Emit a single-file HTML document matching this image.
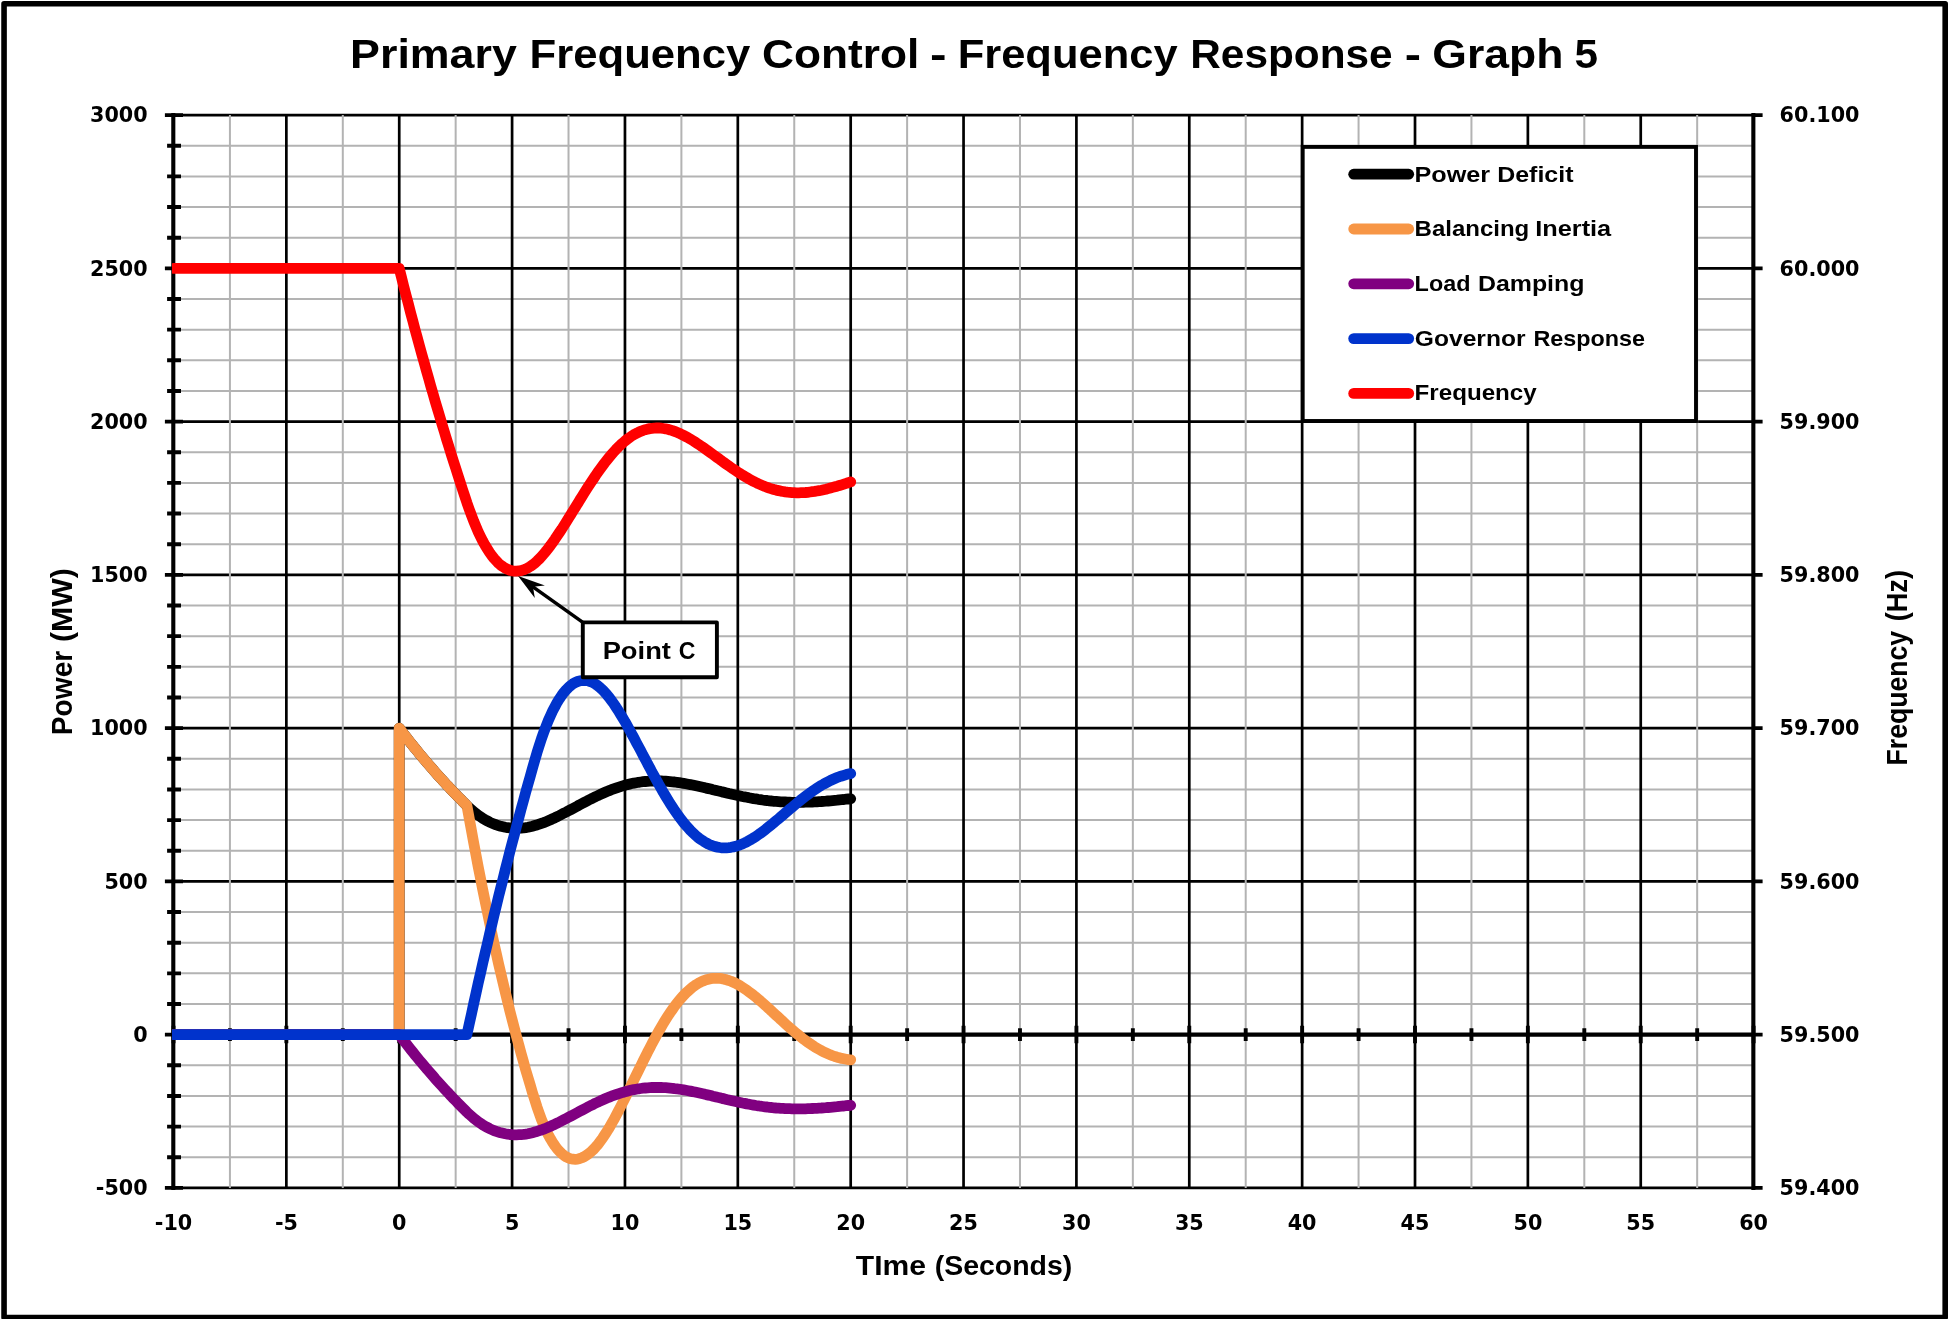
<!DOCTYPE html>
<html lang="en"><head><meta charset="utf-8"><title>Primary Frequency Control - Frequency Response - Graph 5</title>
<style>html,body{margin:0;padding:0;background:#fff}svg{display:block;will-change:transform}.t{font-family:"Liberation Sans",sans-serif;font-weight:bold;fill:#000}.n{font-family:"DejaVu Sans",sans-serif;font-weight:bold;fill:#000;font-size:20.7px}</style></head><body>
<svg width="1948" height="1319" viewBox="0 0 1948 1319">
<rect x="0" y="0" width="1948" height="1319" fill="#fff"/>
<rect x="4.05" y="3.75" width="1941.15" height="1313.75" fill="none" stroke="#000" stroke-width="5.6" stroke-linejoin="round"/>
<path d="M173.5,1157.25H1753.6M173.5,1126.60H1753.6M173.5,1095.95H1753.6M173.5,1065.29H1753.6M173.5,1003.99H1753.6M173.5,973.34H1753.6M173.5,942.69H1753.6M173.5,912.04H1753.6M173.5,850.73H1753.6M173.5,820.08H1753.6M173.5,789.43H1753.6M173.5,758.78H1753.6M173.5,697.48H1753.6M173.5,666.83H1753.6M173.5,636.17H1753.6M173.5,605.52H1753.6M173.5,544.22H1753.6M173.5,513.57H1753.6M173.5,482.92H1753.6M173.5,452.27H1753.6M173.5,390.96H1753.6M173.5,360.31H1753.6M173.5,329.66H1753.6M173.5,299.01H1753.6M173.5,237.71H1753.6M173.5,207.05H1753.6M173.5,176.40H1753.6M173.5,145.75H1753.6" stroke="#b3b3b3" stroke-width="2.0" fill="none"/>
<path d="M173.5,1187.90H1753.6M173.5,1034.64H1753.6M173.5,881.39H1753.6M173.5,728.13H1753.6M173.5,574.87H1753.6M173.5,421.61H1753.6M173.5,268.36H1753.6M173.5,115.10H1753.6M173.50,113.8V1189.2M286.36,113.8V1189.2M399.23,113.8V1189.2M512.09,113.8V1189.2M624.96,113.8V1189.2M737.82,113.8V1189.2M850.69,113.8V1189.2M963.55,113.8V1189.2M1076.41,113.8V1189.2M1189.28,113.8V1189.2M1302.14,113.8V1189.2M1415.01,113.8V1189.2M1527.87,113.8V1189.2M1640.74,113.8V1189.2M1753.60,113.8V1189.2" stroke="#000" stroke-width="2.7" fill="none"/>
<path d="M229.93,115.1V1187.9M342.80,115.1V1187.9M455.66,115.1V1187.9M568.52,115.1V1187.9M681.39,115.1V1187.9M794.25,115.1V1187.9M907.12,115.1V1187.9M1019.98,115.1V1187.9M1132.85,115.1V1187.9M1245.71,115.1V1187.9M1358.57,115.1V1187.9M1471.44,115.1V1187.9M1584.30,115.1V1187.9M1697.17,115.1V1187.9" stroke="#b3b3b3" stroke-width="2.0" fill="none"/>
<path d="M173.30,113.1V1189.9M1753.35,113.1V1189.9M173.3,1034.64H1753.3" stroke="#000" stroke-width="4.1" fill="none"/>
<path d="M164.9,1187.90H183.0M1753.3,1187.90H1762.6M167.1,1157.25H181.0M167.1,1126.60H181.0M167.1,1095.95H181.0M167.1,1065.29H181.0M164.9,1034.64H183.0M1753.3,1034.64H1762.6M167.1,1003.99H181.0M167.1,973.34H181.0M167.1,942.69H181.0M167.1,912.04H181.0M164.9,881.39H183.0M1753.3,881.39H1762.6M167.1,850.73H181.0M167.1,820.08H181.0M167.1,789.43H181.0M167.1,758.78H181.0M164.9,728.13H183.0M1753.3,728.13H1762.6M167.1,697.48H181.0M167.1,666.83H181.0M167.1,636.17H181.0M167.1,605.52H181.0M164.9,574.87H183.0M1753.3,574.87H1762.6M167.1,544.22H181.0M167.1,513.57H181.0M167.1,482.92H181.0M167.1,452.27H181.0M164.9,421.61H183.0M1753.3,421.61H1762.6M167.1,390.96H181.0M167.1,360.31H181.0M167.1,329.66H181.0M167.1,299.01H181.0M164.9,268.36H183.0M1753.3,268.36H1762.6M167.1,237.71H181.0M167.1,207.05H181.0M167.1,176.40H181.0M167.1,145.75H181.0M164.9,115.10H183.0M1753.3,115.10H1762.6M173.50,1025.8V1043.3M229.93,1028.2V1041.0M286.36,1025.8V1043.3M342.80,1028.2V1041.0M399.23,1025.8V1043.3M455.66,1028.2V1041.0M512.09,1025.8V1043.3M568.52,1028.2V1041.0M624.96,1025.8V1043.3M681.39,1028.2V1041.0M737.82,1025.8V1043.3M794.25,1028.2V1041.0M850.69,1025.8V1043.3M907.12,1028.2V1041.0M963.55,1025.8V1043.3M1019.98,1028.2V1041.0M1076.41,1025.8V1043.3M1132.85,1028.2V1041.0M1189.28,1025.8V1043.3M1245.71,1028.2V1041.0M1302.14,1025.8V1043.3M1358.57,1028.2V1041.0M1415.01,1025.8V1043.3M1471.44,1028.2V1041.0M1527.87,1025.8V1043.3M1584.30,1028.2V1041.0M1640.74,1025.8V1043.3M1697.17,1028.2V1041.0M1753.60,1025.8V1043.3" stroke="#000" stroke-width="3.9" fill="none"/>
<defs><clipPath id="pc"><rect x="172.0" y="105.1" width="1592.1" height="1092.8"/></clipPath></defs>
<g clip-path="url(#pc)" fill="none" stroke-width="10.8" stroke-linejoin="round" stroke-linecap="round">
<path d="M173.5,1034.6 L399.2,1034.6 L399.2,728.1 L401.5,731.1 L403.7,734.0 L406.0,736.9 L408.3,739.8 L410.5,742.7 L412.8,745.5 L415.0,748.3 L417.3,751.0 L419.5,753.8 L421.8,756.5 L424.1,759.2 L426.3,761.9 L428.6,764.5 L430.8,767.1 L433.1,769.7 L435.3,772.2 L437.6,774.8 L439.9,777.3 L442.1,779.8 L444.4,782.2 L446.6,784.7 L448.9,787.1 L451.1,789.5 L453.4,791.9 L455.7,794.2 L457.9,796.5 L460.2,798.8 L462.4,801.1 L464.7,803.4 L466.9,805.6 L469.2,807.8 L471.5,809.8 L473.7,811.8 L476.0,813.6 L478.2,815.3 L480.5,816.8 L482.7,818.3 L485.0,819.7 L487.3,820.9 L489.5,822.1 L491.8,823.1 L494.0,824.0 L496.3,824.9 L498.5,825.6 L500.8,826.3 L503.1,826.8 L505.3,827.3 L507.6,827.7 L509.8,827.9 L512.1,828.1 L514.4,828.2 L516.6,828.3 L518.9,828.2 L521.1,828.1 L523.4,827.9 L525.6,827.6 L527.9,827.2 L530.2,826.7 L532.4,826.2 L534.7,825.6 L536.9,825.0 L539.2,824.2 L541.4,823.4 L543.7,822.6 L546.0,821.7 L548.2,820.8 L550.5,819.8 L552.7,818.7 L555.0,817.7 L557.2,816.6 L559.5,815.5 L561.8,814.3 L564.0,813.1 L566.3,812.0 L568.5,810.8 L570.8,809.6 L573.0,808.4 L575.3,807.2 L577.6,806.0 L579.8,804.7 L582.1,803.5 L584.3,802.4 L586.6,801.2 L588.8,800.0 L591.1,798.9 L593.4,797.7 L595.6,796.6 L597.9,795.6 L600.1,794.5 L602.4,793.5 L604.6,792.5 L606.9,791.5 L609.2,790.6 L611.4,789.7 L613.7,788.9 L615.9,788.1 L618.2,787.3 L620.4,786.6 L622.7,785.9 L625.0,785.2 L627.2,784.6 L629.5,784.1 L631.7,783.6 L634.0,783.1 L636.2,782.7 L638.5,782.3 L640.8,782.0 L643.0,781.7 L645.3,781.5 L647.5,781.3 L649.8,781.1 L652.0,781.0 L654.3,781.0 L656.6,780.9 L658.8,780.9 L661.1,781.0 L663.3,781.1 L665.6,781.2 L667.8,781.4 L670.1,781.6 L672.4,781.8 L674.6,782.0 L676.9,782.3 L679.1,782.6 L681.4,783.0 L683.6,783.4 L685.9,783.8 L688.2,784.2 L690.4,784.6 L692.7,785.0 L694.9,785.5 L697.2,786.0 L699.4,786.5 L701.7,787.0 L704.0,787.5 L706.2,788.1 L708.5,788.6 L710.7,789.1 L713.0,789.7 L715.2,790.2 L717.5,790.8 L719.8,791.3 L722.0,791.9 L724.3,792.4 L726.5,792.9 L728.8,793.5 L731.0,794.0 L733.3,794.5 L735.6,795.0 L737.8,795.5 L740.1,796.0 L742.3,796.5 L744.6,796.9 L746.9,797.3 L749.1,797.8 L751.4,798.2 L753.6,798.6 L755.9,798.9 L758.1,799.3 L760.4,799.6 L762.7,800.0 L764.9,800.3 L767.2,800.5 L769.4,800.8 L771.7,801.0 L773.9,801.3 L776.2,801.4 L778.5,801.6 L780.7,801.8 L783.0,801.9 L785.2,802.0 L787.5,802.1 L789.7,802.2 L792.0,802.3 L794.3,802.3 L796.5,802.3 L798.8,802.3 L801.0,802.3 L803.3,802.3 L805.5,802.2 L807.8,802.2 L810.1,802.1 L812.3,802.0 L814.6,801.9 L816.8,801.8 L819.1,801.6 L821.3,801.5 L823.6,801.3 L825.9,801.2 L828.1,801.0 L830.4,800.8 L832.6,800.6 L834.9,800.4 L837.1,800.2 L839.4,799.9 L841.7,799.7 L843.9,799.5 L846.2,799.2 L848.4,799.0 L850.7,798.8" stroke="#000"/>
<path d="M173.5,1034.6 L399.2,1034.6 L399.2,728.1 L401.5,731.1 L403.7,734.0 L406.0,736.9 L408.3,739.8 L410.5,742.7 L412.8,745.5 L415.0,748.3 L417.3,751.0 L419.5,753.8 L421.8,756.5 L424.1,759.2 L426.3,761.9 L428.6,764.5 L430.8,767.1 L433.1,769.7 L435.3,772.2 L437.6,774.8 L439.9,777.3 L442.1,779.8 L444.4,782.2 L446.6,784.7 L448.9,787.1 L451.1,789.5 L453.4,791.9 L455.7,794.2 L457.9,796.5 L460.2,798.8 L462.4,801.1 L464.7,803.4 L466.9,805.6 L469.2,818.3 L471.5,830.7 L473.7,842.9 L476.0,854.9 L478.2,866.7 L480.5,878.2 L482.7,889.6 L485.0,900.7 L487.3,911.7 L489.5,922.4 L491.8,933.0 L494.0,943.3 L496.3,953.5 L498.5,963.5 L500.8,973.3 L503.1,982.9 L505.3,992.3 L507.6,1001.6 L509.8,1010.7 L512.1,1019.6 L514.4,1028.3 L516.6,1036.9 L518.9,1045.3 L521.1,1053.5 L523.4,1061.6 L525.6,1069.6 L527.9,1077.3 L530.2,1084.9 L532.4,1092.4 L534.7,1099.7 L536.9,1106.7 L539.2,1113.2 L541.4,1119.3 L543.7,1124.8 L546.0,1129.9 L548.2,1134.6 L550.5,1138.8 L552.7,1142.5 L555.0,1145.9 L557.2,1148.9 L559.5,1151.4 L561.8,1153.6 L564.0,1155.4 L566.3,1156.9 L568.5,1158.0 L570.8,1158.8 L573.0,1159.2 L575.3,1159.3 L577.6,1159.1 L579.8,1158.5 L582.1,1157.7 L584.3,1156.6 L586.6,1155.2 L588.8,1153.6 L591.1,1151.7 L593.4,1149.5 L595.6,1147.1 L597.9,1144.4 L600.1,1141.5 L602.4,1138.4 L604.6,1135.0 L606.9,1131.5 L609.2,1127.8 L611.4,1123.9 L613.7,1119.9 L615.9,1115.7 L618.2,1111.4 L620.4,1107.1 L622.7,1102.6 L625.0,1098.1 L627.2,1093.6 L629.5,1089.0 L631.7,1084.4 L634.0,1079.7 L636.2,1075.1 L638.5,1070.5 L640.8,1065.9 L643.0,1061.3 L645.3,1056.8 L647.5,1052.3 L649.8,1047.9 L652.0,1043.6 L654.3,1039.4 L656.6,1035.2 L658.8,1031.2 L661.1,1027.2 L663.3,1023.4 L665.6,1019.7 L667.8,1016.2 L670.1,1012.7 L672.4,1009.5 L674.6,1006.3 L676.9,1003.3 L679.1,1000.5 L681.4,997.9 L683.6,995.4 L685.9,993.0 L688.2,990.9 L690.4,988.9 L692.7,987.1 L694.9,985.4 L697.2,984.0 L699.4,982.7 L701.7,981.5 L704.0,980.6 L706.2,979.8 L708.5,979.2 L710.7,978.7 L713.0,978.4 L715.2,978.3 L717.5,978.3 L719.8,978.4 L722.0,978.7 L724.3,979.2 L726.5,979.8 L728.8,980.5 L731.0,981.3 L733.3,982.3 L735.6,983.3 L737.8,984.5 L740.1,985.8 L742.3,987.2 L744.6,988.7 L746.9,990.2 L749.1,991.9 L751.4,993.6 L753.6,995.3 L755.9,997.2 L758.1,999.1 L760.4,1001.0 L762.7,1003.0 L764.9,1005.0 L767.2,1007.0 L769.4,1009.1 L771.7,1011.2 L773.9,1013.3 L776.2,1015.4 L778.5,1017.4 L780.7,1019.5 L783.0,1021.6 L785.2,1023.7 L787.5,1025.7 L789.7,1027.7 L792.0,1029.7 L794.3,1031.6 L796.5,1033.5 L798.8,1035.3 L801.0,1037.1 L803.3,1038.9 L805.5,1040.6 L807.8,1042.2 L810.1,1043.8 L812.3,1045.3 L814.6,1046.8 L816.8,1048.1 L819.1,1049.4 L821.3,1050.7 L823.6,1051.8 L825.9,1052.9 L828.1,1053.9 L830.4,1054.9 L832.6,1055.7 L834.9,1056.5 L837.1,1057.2 L839.4,1057.8 L841.7,1058.4 L843.9,1058.8 L846.2,1059.2 L848.4,1059.6 L850.7,1059.8" stroke="#f79646"/>
<path d="M173.5,1034.6 L399.2,1034.6 L401.5,1037.6 L403.7,1040.5 L406.0,1043.4 L408.3,1046.3 L410.5,1049.2 L412.8,1052.0 L415.0,1054.8 L417.3,1057.6 L419.5,1060.3 L421.8,1063.0 L424.1,1065.7 L426.3,1068.4 L428.6,1071.0 L430.8,1073.6 L433.1,1076.2 L435.3,1078.8 L437.6,1081.3 L439.9,1083.8 L442.1,1086.3 L444.4,1088.8 L446.6,1091.2 L448.9,1093.6 L451.1,1096.0 L453.4,1098.4 L455.7,1100.7 L457.9,1103.1 L460.2,1105.4 L462.4,1107.6 L464.7,1109.9 L466.9,1112.1 L469.2,1114.3 L471.5,1116.3 L473.7,1118.3 L476.0,1120.1 L478.2,1121.8 L480.5,1123.3 L482.7,1124.8 L485.0,1126.2 L487.3,1127.4 L489.5,1128.6 L491.8,1129.6 L494.0,1130.6 L496.3,1131.4 L498.5,1132.1 L500.8,1132.8 L503.1,1133.3 L505.3,1133.8 L507.6,1134.2 L509.8,1134.5 L512.1,1134.7 L514.4,1134.8 L516.6,1134.8 L518.9,1134.7 L521.1,1134.6 L523.4,1134.4 L525.6,1134.1 L527.9,1133.7 L530.2,1133.2 L532.4,1132.7 L534.7,1132.1 L536.9,1131.5 L539.2,1130.7 L541.4,1130.0 L543.7,1129.1 L546.0,1128.2 L548.2,1127.3 L550.5,1126.3 L552.7,1125.2 L555.0,1124.2 L557.2,1123.1 L559.5,1122.0 L561.8,1120.8 L564.0,1119.7 L566.3,1118.5 L568.5,1117.3 L570.8,1116.1 L573.0,1114.9 L575.3,1113.7 L577.6,1112.5 L579.8,1111.3 L582.1,1110.1 L584.3,1108.9 L586.6,1107.7 L588.8,1106.5 L591.1,1105.4 L593.4,1104.3 L595.6,1103.1 L597.9,1102.1 L600.1,1101.0 L602.4,1100.0 L604.6,1099.0 L606.9,1098.0 L609.2,1097.1 L611.4,1096.2 L613.7,1095.4 L615.9,1094.6 L618.2,1093.8 L620.4,1093.1 L622.7,1092.4 L625.0,1091.8 L627.2,1091.2 L629.5,1090.6 L631.7,1090.1 L634.0,1089.6 L636.2,1089.2 L638.5,1088.8 L640.8,1088.5 L643.0,1088.2 L645.3,1088.0 L647.5,1087.8 L649.8,1087.6 L652.0,1087.5 L654.3,1087.5 L656.6,1087.4 L658.8,1087.5 L661.1,1087.5 L663.3,1087.6 L665.6,1087.7 L667.8,1087.9 L670.1,1088.1 L672.4,1088.3 L674.6,1088.6 L676.9,1088.8 L679.1,1089.2 L681.4,1089.5 L683.6,1089.9 L685.9,1090.3 L688.2,1090.7 L690.4,1091.1 L692.7,1091.6 L694.9,1092.0 L697.2,1092.5 L699.4,1093.0 L701.7,1093.5 L704.0,1094.0 L706.2,1094.6 L708.5,1095.1 L710.7,1095.6 L713.0,1096.2 L715.2,1096.7 L717.5,1097.3 L719.8,1097.8 L722.0,1098.4 L724.3,1098.9 L726.5,1099.5 L728.8,1100.0 L731.0,1100.5 L733.3,1101.0 L735.6,1101.5 L737.8,1102.0 L740.1,1102.5 L742.3,1103.0 L744.6,1103.4 L746.9,1103.9 L749.1,1104.3 L751.4,1104.7 L753.6,1105.1 L755.9,1105.5 L758.1,1105.8 L760.4,1106.2 L762.7,1106.5 L764.9,1106.8 L767.2,1107.0 L769.4,1107.3 L771.7,1107.5 L773.9,1107.8 L776.2,1108.0 L778.5,1108.1 L780.7,1108.3 L783.0,1108.4 L785.2,1108.6 L787.5,1108.7 L789.7,1108.7 L792.0,1108.8 L794.3,1108.8 L796.5,1108.9 L798.8,1108.9 L801.0,1108.8 L803.3,1108.8 L805.5,1108.8 L807.8,1108.7 L810.1,1108.6 L812.3,1108.5 L814.6,1108.4 L816.8,1108.3 L819.1,1108.1 L821.3,1108.0 L823.6,1107.8 L825.9,1107.7 L828.1,1107.5 L830.4,1107.3 L832.6,1107.1 L834.9,1106.9 L837.1,1106.7 L839.4,1106.4 L841.7,1106.2 L843.9,1106.0 L846.2,1105.7 L848.4,1105.5 L850.7,1105.3" stroke="#800080"/>
<path d="M173.5,1034.6 L399.2,1034.6 L401.5,1034.6 L403.7,1034.6 L406.0,1034.6 L408.3,1034.6 L410.5,1034.6 L412.8,1034.6 L415.0,1034.6 L417.3,1034.6 L419.5,1034.6 L421.8,1034.6 L424.1,1034.6 L426.3,1034.6 L428.6,1034.6 L430.8,1034.6 L433.1,1034.6 L435.3,1034.6 L437.6,1034.6 L439.9,1034.6 L442.1,1034.6 L444.4,1034.6 L446.6,1034.6 L448.9,1034.6 L451.1,1034.6 L453.4,1034.6 L455.7,1034.6 L457.9,1034.6 L460.2,1034.6 L462.4,1034.6 L464.7,1034.6 L466.9,1034.6 L469.2,1024.2 L471.5,1013.8 L473.7,1003.5 L476.0,993.3 L478.2,983.2 L480.5,973.3 L482.7,963.4 L485.0,953.6 L487.3,943.9 L489.5,934.3 L491.8,924.8 L494.0,915.3 L496.3,906.0 L498.5,896.8 L500.8,887.6 L503.1,878.6 L505.3,869.6 L507.6,860.7 L509.8,851.9 L512.1,843.2 L514.4,834.6 L516.6,826.0 L518.9,817.5 L521.1,809.2 L523.4,800.9 L525.6,792.6 L527.9,784.5 L530.2,776.4 L532.4,768.5 L534.7,760.5 L536.9,752.9 L539.2,745.6 L541.4,738.8 L543.7,732.4 L546.0,726.4 L548.2,720.8 L550.5,715.6 L552.7,710.8 L555.0,706.4 L557.2,702.3 L559.5,698.7 L561.8,695.3 L564.0,692.3 L566.3,689.7 L568.5,687.4 L570.8,685.5 L573.0,683.8 L575.3,682.5 L577.6,681.5 L579.8,680.8 L582.1,680.5 L584.3,680.4 L586.6,680.6 L588.8,681.1 L591.1,681.9 L593.4,682.9 L595.6,684.2 L597.9,685.8 L600.1,687.7 L602.4,689.8 L604.6,692.1 L606.9,694.7 L609.2,697.5 L611.4,700.5 L613.7,703.6 L615.9,707.0 L618.2,710.5 L620.4,714.1 L622.7,717.9 L625.0,721.7 L627.2,725.7 L629.5,729.8 L631.7,733.9 L634.0,738.0 L636.2,742.3 L638.5,746.5 L640.8,750.8 L643.0,755.1 L645.3,759.3 L647.5,763.6 L649.8,767.8 L652.0,772.1 L654.3,776.2 L656.6,780.3 L658.8,784.4 L661.1,788.4 L663.3,792.3 L665.6,796.1 L667.8,799.8 L670.1,803.5 L672.4,807.0 L674.6,810.4 L676.9,813.6 L679.1,816.8 L681.4,819.8 L683.6,822.6 L685.9,825.4 L688.2,827.9 L690.4,830.4 L692.7,832.6 L694.9,834.7 L697.2,836.7 L699.4,838.5 L701.7,840.1 L704.0,841.6 L706.2,842.9 L708.5,844.1 L710.7,845.1 L713.0,845.9 L715.2,846.6 L717.5,847.1 L719.8,847.5 L722.0,847.8 L724.3,847.9 L726.5,847.8 L728.8,847.6 L731.0,847.3 L733.3,846.9 L735.6,846.3 L737.8,845.6 L740.1,844.8 L742.3,843.9 L744.6,842.9 L746.9,841.8 L749.1,840.6 L751.4,839.3 L753.6,837.9 L755.9,836.4 L758.1,834.9 L760.4,833.3 L762.7,831.6 L764.9,829.9 L767.2,828.1 L769.4,826.3 L771.7,824.5 L773.9,822.6 L776.2,820.7 L778.5,818.8 L780.7,816.9 L783.0,815.0 L785.2,813.0 L787.5,811.1 L789.7,809.2 L792.0,807.3 L794.3,805.4 L796.5,803.5 L798.8,801.6 L801.0,799.8 L803.3,798.0 L805.5,796.3 L807.8,794.6 L810.1,792.9 L812.3,791.3 L814.6,789.8 L816.8,788.3 L819.1,786.8 L821.3,785.4 L823.6,784.1 L825.9,782.9 L828.1,781.7 L830.4,780.5 L832.6,779.5 L834.9,778.5 L837.1,777.6 L839.4,776.7 L841.7,776.0 L843.9,775.3 L846.2,774.6 L848.4,774.1 L850.7,773.6" stroke="#0033cc"/>
<path d="M173.5,268.4 L399.2,268.4 L401.5,277.3 L403.7,286.2 L406.0,295.0 L408.3,303.7 L410.5,312.3 L412.8,320.8 L415.0,329.3 L417.3,337.7 L419.5,345.9 L421.8,354.2 L424.1,362.3 L426.3,370.3 L428.6,378.3 L430.8,386.2 L433.1,394.0 L435.3,401.8 L437.6,409.4 L439.9,417.0 L442.1,424.6 L444.4,432.0 L446.6,439.4 L448.9,446.7 L451.1,453.9 L453.4,461.1 L455.7,468.2 L457.9,475.2 L460.2,482.2 L462.4,489.1 L464.7,495.9 L466.9,502.7 L469.2,509.2 L471.5,515.4 L473.7,521.2 L476.0,526.7 L478.2,531.8 L480.5,536.6 L482.7,541.0 L485.0,545.1 L487.3,548.9 L489.5,552.4 L491.8,555.6 L494.0,558.4 L496.3,560.9 L498.5,563.2 L500.8,565.2 L503.1,566.8 L505.3,568.2 L507.6,569.3 L509.8,570.2 L512.1,570.8 L514.4,571.1 L516.6,571.2 L518.9,571.0 L521.1,570.6 L523.4,569.9 L525.6,569.0 L527.9,567.9 L530.2,566.5 L532.4,565.0 L534.7,563.2 L536.9,561.2 L539.2,559.0 L541.4,556.6 L543.7,554.0 L546.0,551.3 L548.2,548.4 L550.5,545.4 L552.7,542.3 L555.0,539.1 L557.2,535.8 L559.5,532.4 L561.8,529.0 L564.0,525.5 L566.3,521.9 L568.5,518.3 L570.8,514.6 L573.0,511.0 L575.3,507.3 L577.6,503.7 L579.8,500.0 L582.1,496.4 L584.3,492.8 L586.6,489.2 L588.8,485.7 L591.1,482.3 L593.4,478.9 L595.6,475.5 L597.9,472.2 L600.1,469.1 L602.4,466.0 L604.6,463.0 L606.9,460.1 L609.2,457.3 L611.4,454.6 L613.7,452.0 L615.9,449.6 L618.2,447.2 L620.4,445.1 L622.7,443.0 L625.0,441.0 L627.2,439.2 L629.5,437.6 L631.7,436.0 L634.0,434.6 L636.2,433.4 L638.5,432.3 L640.8,431.3 L643.0,430.4 L645.3,429.7 L647.5,429.1 L649.8,428.6 L652.0,428.3 L654.3,428.1 L656.6,428.0 L658.8,428.0 L661.1,428.2 L663.3,428.5 L665.6,428.8 L667.8,429.3 L670.1,429.9 L672.4,430.6 L674.6,431.4 L676.9,432.3 L679.1,433.2 L681.4,434.3 L683.6,435.4 L685.9,436.6 L688.2,437.8 L690.4,439.1 L692.7,440.5 L694.9,441.9 L697.2,443.4 L699.4,444.9 L701.7,446.4 L704.0,448.0 L706.2,449.6 L708.5,451.2 L710.7,452.8 L713.0,454.5 L715.2,456.1 L717.5,457.8 L719.8,459.4 L722.0,461.1 L724.3,462.7 L726.5,464.3 L728.8,465.9 L731.0,467.5 L733.3,469.1 L735.6,470.6 L737.8,472.1 L740.1,473.6 L742.3,475.0 L744.6,476.3 L746.9,477.7 L749.1,479.0 L751.4,480.2 L753.6,481.4 L755.9,482.5 L758.1,483.6 L760.4,484.6 L762.7,485.6 L764.9,486.5 L767.2,487.3 L769.4,488.1 L771.7,488.8 L773.9,489.5 L776.2,490.1 L778.5,490.6 L780.7,491.1 L783.0,491.5 L785.2,491.9 L787.5,492.2 L789.7,492.4 L792.0,492.6 L794.3,492.7 L796.5,492.8 L798.8,492.8 L801.0,492.7 L803.3,492.6 L805.5,492.5 L807.8,492.3 L810.1,492.0 L812.3,491.7 L814.6,491.4 L816.8,491.0 L819.1,490.6 L821.3,490.2 L823.6,489.7 L825.9,489.2 L828.1,488.6 L830.4,488.0 L832.6,487.4 L834.9,486.8 L837.1,486.2 L839.4,485.5 L841.7,484.8 L843.9,484.1 L846.2,483.4 L848.4,482.6 L850.7,481.9" stroke="#ff0000"/>
</g>
<text class="n" x="147.6" y="1195.2" text-anchor="end">-500</text>
<text class="n" x="147.6" y="1041.9" text-anchor="end">0</text>
<text class="n" x="147.6" y="888.6" text-anchor="end">500</text>
<text class="n" x="147.6" y="735.4" text-anchor="end">1000</text>
<text class="n" x="147.6" y="582.1" text-anchor="end">1500</text>
<text class="n" x="147.6" y="428.9" text-anchor="end">2000</text>
<text class="n" x="147.6" y="275.6" text-anchor="end">2500</text>
<text class="n" x="147.6" y="122.3" text-anchor="end">3000</text>
<text class="n" x="1779.6" y="1195.2">59.400</text>
<text class="n" x="1779.6" y="1041.9">59.500</text>
<text class="n" x="1779.6" y="888.6">59.600</text>
<text class="n" x="1779.6" y="735.4">59.700</text>
<text class="n" x="1779.6" y="582.1">59.800</text>
<text class="n" x="1779.6" y="428.9">59.900</text>
<text class="n" x="1779.6" y="275.6">60.000</text>
<text class="n" x="1779.6" y="122.3">60.100</text>
<text class="n" x="173.5" y="1229.7" text-anchor="middle">-10</text>
<text class="n" x="286.4" y="1229.7" text-anchor="middle">-5</text>
<text class="n" x="399.2" y="1229.7" text-anchor="middle">0</text>
<text class="n" x="512.1" y="1229.7" text-anchor="middle">5</text>
<text class="n" x="625.0" y="1229.7" text-anchor="middle">10</text>
<text class="n" x="737.8" y="1229.7" text-anchor="middle">15</text>
<text class="n" x="850.7" y="1229.7" text-anchor="middle">20</text>
<text class="n" x="963.5" y="1229.7" text-anchor="middle">25</text>
<text class="n" x="1076.4" y="1229.7" text-anchor="middle">30</text>
<text class="n" x="1189.3" y="1229.7" text-anchor="middle">35</text>
<text class="n" x="1302.1" y="1229.7" text-anchor="middle">40</text>
<text class="n" x="1415.0" y="1229.7" text-anchor="middle">45</text>
<text class="n" x="1527.9" y="1229.7" text-anchor="middle">50</text>
<text class="n" x="1640.7" y="1229.7" text-anchor="middle">55</text>
<text class="n" x="1753.6" y="1229.7" text-anchor="middle">60</text>
<text class="t" y="68.4" font-size="41.0"><tspan x="350.11" textLength="166.73" lengthAdjust="spacingAndGlyphs">Primary</tspan> <tspan x="529.58" textLength="220.65" lengthAdjust="spacingAndGlyphs">Frequency</tspan> <tspan x="761.98" textLength="157.35" lengthAdjust="spacingAndGlyphs">Control</tspan> <tspan x="930.06" textLength="16.52" lengthAdjust="spacingAndGlyphs">-</tspan> <tspan x="957.69" textLength="219.94" lengthAdjust="spacingAndGlyphs">Frequency</tspan> <tspan x="1190.27" textLength="202.38" lengthAdjust="spacingAndGlyphs">Response</tspan> <tspan x="1404.69" textLength="16.26" lengthAdjust="spacingAndGlyphs">-</tspan> <tspan x="1432.27" textLength="131.09" lengthAdjust="spacingAndGlyphs">Graph</tspan> <tspan x="1574.50" textLength="23.47" lengthAdjust="spacingAndGlyphs">5</tspan></text>
<text class="t" y="1274.7" font-size="27.1"><tspan x="855.86" textLength="70.17" lengthAdjust="spacingAndGlyphs">TIme</tspan> <tspan x="934.68" textLength="137.64" lengthAdjust="spacingAndGlyphs">(Seconds)</tspan></text>
<text class="t" y="0.0" font-size="29.2" transform="translate(72.1,0) rotate(-90)"><tspan x="-735.18" textLength="84.41" lengthAdjust="spacingAndGlyphs">Power</tspan> <tspan x="-642.11" textLength="73.91" lengthAdjust="spacingAndGlyphs">(MW)</tspan></text>
<text class="t" y="0.0" font-size="28.6" transform="translate(1907.4,0) rotate(-90)"><tspan x="-765.48" textLength="134.62" lengthAdjust="spacingAndGlyphs">Frequency</tspan> <tspan x="-621.36" textLength="51.41" lengthAdjust="spacingAndGlyphs">(Hz)</tspan></text>
<rect x="1302.7" y="146.9" width="393.3" height="274.1" fill="#fff" stroke="#000" stroke-width="3.9"/>
<path d="M1353.7,174.2H1408.7" stroke="#000" stroke-width="10.8" stroke-linecap="round" fill="none"/>
<text class="t" y="181.6" font-size="21.2"><tspan x="1414.51" textLength="75.67" lengthAdjust="spacingAndGlyphs">Power</tspan> <tspan x="1497.23" textLength="76.27" lengthAdjust="spacingAndGlyphs">Deficit</tspan></text>
<path d="M1353.7,229.0H1408.7" stroke="#f79646" stroke-width="10.8" stroke-linecap="round" fill="none"/>
<text class="t" y="236.3" font-size="21.2"><tspan x="1414.59" textLength="114.71" lengthAdjust="spacingAndGlyphs">Balancing</tspan> <tspan x="1535.20" textLength="76.03" lengthAdjust="spacingAndGlyphs">Inertia</tspan></text>
<path d="M1353.7,283.8H1408.7" stroke="#800080" stroke-width="10.8" stroke-linecap="round" fill="none"/>
<text class="t" y="291.2" font-size="21.2"><tspan x="1414.64" textLength="55.80" lengthAdjust="spacingAndGlyphs">Load</tspan> <tspan x="1477.93" textLength="106.53" lengthAdjust="spacingAndGlyphs">Damping</tspan></text>
<path d="M1353.7,338.6H1408.7" stroke="#0033cc" stroke-width="10.8" stroke-linecap="round" fill="none"/>
<text class="t" y="345.8" font-size="21.2"><tspan x="1414.89" textLength="110.68" lengthAdjust="spacingAndGlyphs">Governor</tspan> <tspan x="1533.44" textLength="111.66" lengthAdjust="spacingAndGlyphs">Response</tspan></text>
<path d="M1353.7,393.4H1408.7" stroke="#ff0000" stroke-width="10.8" stroke-linecap="round" fill="none"/>
<text class="t" y="400.4" font-size="21.2"><tspan x="1414.58" textLength="122.15" lengthAdjust="spacingAndGlyphs">Frequency</tspan></text>
<path d="M582.5,622.2L530.5,585.1" stroke="#000" stroke-width="3.5" fill="none"/>
<path d="M518.1,576.1L544.9,585.4L533.0,586.8L534.8,597.9Z" fill="#000"/>
<rect x="582.8" y="622.4" width="134.1" height="54.9" fill="#fff" stroke="#000" stroke-width="3.9" stroke-linejoin="round"/>
<text class="t" y="658.8" font-size="23.7"><tspan x="602.67" textLength="68.26" lengthAdjust="spacingAndGlyphs">Point</tspan> <tspan x="678.65" textLength="16.68" lengthAdjust="spacingAndGlyphs">C</tspan></text>
</svg></body></html>
